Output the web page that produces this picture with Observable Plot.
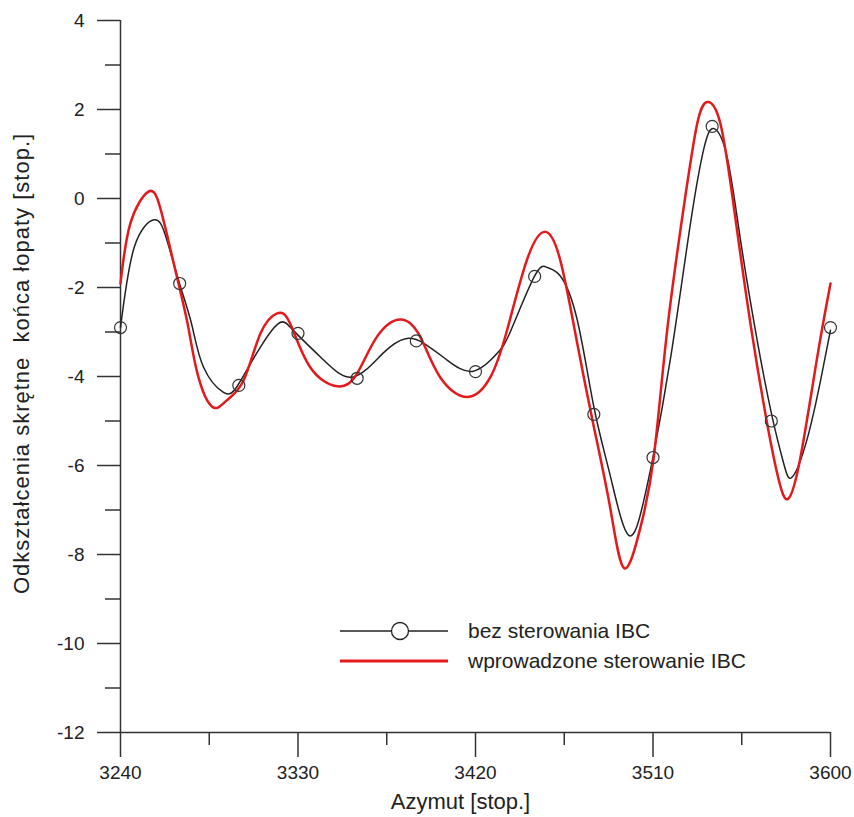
<!DOCTYPE html>
<html>
<head>
<meta charset="utf-8">
<script src="https://cdn.jsdelivr.net/npm/d3@7"></script>
<script src="https://cdn.jsdelivr.net/npm/@observablehq/plot@0.6"></script>
<style>
  html, body { margin: 0; padding: 0; background: #fff; }
  #wrap { position: relative; width: 854px; height: 817px; font-family: "Liberation Sans", Arial, sans-serif; }
  #legend { position: absolute; left: 338px; top: 616px; }
  .row { display: flex; align-items: center; height: 30px; }
  .row span { font-size: 21px; color: #222; margin-left: 18px; }
</style>
</head>
<body>
<div id="wrap">
  <div id="chart"></div>
  <div id="legend">
    <div class="row">
      <svg width="112" height="30"><line x1="2" y1="15" x2="110" y2="15" stroke="#222" stroke-width="1.5"/><circle cx="62" cy="15" r="8.5" fill="white" stroke="#222" stroke-width="1.3"/></svg>
      <span>bez sterowania IBC</span>
    </div>
    <div class="row">
      <svg width="112" height="30"><line x1="2" y1="15" x2="110" y2="15" stroke="#e3191c" stroke-width="3"/></svg>
      <span>wprowadzone sterowanie IBC</span>
    </div>
  </div>
</div>
<script>
// Series: bez sterowania IBC (black, smooth)
const blackAz  = [3240, 3247, 3257, 3263, 3270, 3276, 3282, 3292, 3299, 3309, 3320, 3328, 3343, 3358, 3373, 3384.5, 3394, 3405.6, 3419, 3431, 3438, 3450, 3456.4, 3463, 3471.6, 3480, 3488.5, 3497.7, 3505, 3510, 3519, 3529, 3536, 3541, 3547.6, 3554.4, 3562.8, 3570.4, 3576.3, 3580.6, 3588, 3595, 3600];
const blackVal = [-2.9, -1.09, -0.48, -0.86, -1.92, -2.81, -3.78, -4.35, -4.23, -3.48, -2.81, -2.98, -3.63, -4.01, -3.48, -3.15, -3.26, -3.63, -3.88, -3.48, -2.96, -1.74, -1.55, -1.74, -2.73, -4.68, -6.26, -7.57, -6.85, -5.81, -3.56, -0.56, 1.16, 1.57, 0.93, -0.94, -3.18, -4.9, -5.96, -6.26, -5.43, -4.08, -2.96];
// Markers on the black series
const markAz  = [3240, 3270, 3300, 3330, 3360, 3390, 3420, 3450, 3480, 3510, 3540, 3570, 3600];
const markVal = [-2.9, -1.91, -4.2, -3.03, -4.04, -3.2, -3.89, -1.75, -4.85, -5.82, 1.62, -5.0, -2.9];
// Series: wprowadzone sterowanie IBC (red)
const redAz  = [3240, 3245, 3254, 3260, 3267, 3274, 3279, 3286.5, 3294, 3302.5, 3311, 3319.4, 3326, 3336, 3350, 3360, 3370, 3382, 3392, 3402, 3416, 3427.6, 3436, 3446, 3455, 3463, 3471.6, 3480, 3488.5, 3495.5, 3503.7, 3510.4, 3517.2, 3525.6, 3532.4, 3537.8, 3544.2, 3551, 3559.4, 3567.9, 3573.8, 3578.5, 3584.8, 3593.3, 3600];
const redVal = [-1.91, -0.56, 0.15, -0.19, -1.46, -2.81, -3.93, -4.68, -4.53, -4.08, -3.03, -2.58, -2.81, -3.78, -4.22, -3.93, -3.11, -2.72, -3.11, -4.01, -4.46, -4.01, -2.96, -1.39, -0.75, -1.39, -3.26, -5.13, -7.0, -8.31, -7.38, -5.81, -2.96, -0.19, 1.68, 2.17, 1.68, -0.19, -2.81, -5.06, -6.33, -6.75, -5.81, -3.56, -1.91];
// Ticks
const xTicks = [3240, 3330, 3420, 3510, 3600];
const xMinor = [3285, 3375, 3465, 3555];
const yTicks = [-12, -10, -8, -6, -4, -2, 0, 2, 4];
const yMinor = [-11, -9, -7, -5, -3, -1, 1, 3];
const xTitle = "Azymut [stop.]";
const yTitle = "Odkształcenia skrętne  końca łopaty [stop.]";

const black = blackAz.map((x, i) => ({x, y: blackVal[i]}));
const red = redAz.map((x, i) => ({x, y: redVal[i]}));
const marks = markAz.map((x, i) => ({x, y: markVal[i]}));

const axisColor = "#333";
const font = "'Liberation Sans', Arial, sans-serif";
const chart = Plot.plot({
  width: 854,
  height: 817,
  marginLeft: 120,
  marginRight: 24,
  marginTop: 20,
  marginBottom: 85,
  x: {domain: [3240, 3600], axis: null},
  y: {domain: [-12, 4], axis: null},
  style: {fontFamily: font, color: "#222", background: "white"},
  marks: [
    Plot.ruleX([3240], {stroke: axisColor, strokeWidth: 1.5}),
    Plot.ruleY([-12], {stroke: axisColor, strokeWidth: 1.5}),
    // major and minor ticks
    Plot.axisY({ticks: yTicks, tickSize: 23, tickFormat: () => "", label: null, stroke: axisColor, strokeWidth: 1.5}),
    Plot.axisY({ticks: yMinor, tickSize: 15, tickFormat: () => "", label: null, stroke: axisColor, strokeWidth: 1.5}),
    Plot.axisX({ticks: xTicks, tickSize: 25, tickFormat: () => "", label: null, stroke: axisColor, strokeWidth: 1.5}),
    Plot.axisX({ticks: xMinor, tickSize: 13, tickFormat: () => "", label: null, stroke: axisColor, strokeWidth: 1.5}),
    // tick labels
    Plot.text(yTicks, {y: d => d, text: d => String(d), frameAnchor: "left", dx: -36, textAnchor: "end", fontSize: 19, fill: "#222"}),
    Plot.text(xTicks, {x: d => d, text: d => String(d), frameAnchor: "bottom", dy: 46, textAnchor: "middle", fontSize: 19, fill: "#222"}),
    // axis titles
    Plot.text([yTitle], {frameAnchor: "left", dx: -99, dy: -13, rotate: -90, textAnchor: "middle", fontSize: 22, fill: "#222"}),
    Plot.text([xTitle], {frameAnchor: "bottom", dy: 76, dx: -15, textAnchor: "middle", fontSize: 22, fill: "#222"}),
    // series
    Plot.line(black, {x: "x", y: "y", curve: "natural", stroke: "#222", strokeWidth: 1.5}),
    Plot.line(red, {x: "x", y: "y", curve: "natural", stroke: "#e3191c", strokeWidth: 2.5}),
    Plot.dot(marks, {x: "x", y: "y", r: 6, stroke: "#333", strokeWidth: 1.2, fill: "none"})
  ]
});
chart.querySelectorAll("text").forEach(t => {
  if (t.textContent === yTitle) t.setAttribute("letter-spacing", "1");
});
document.getElementById("chart").appendChild(chart);
</script>
</body>
</html>
